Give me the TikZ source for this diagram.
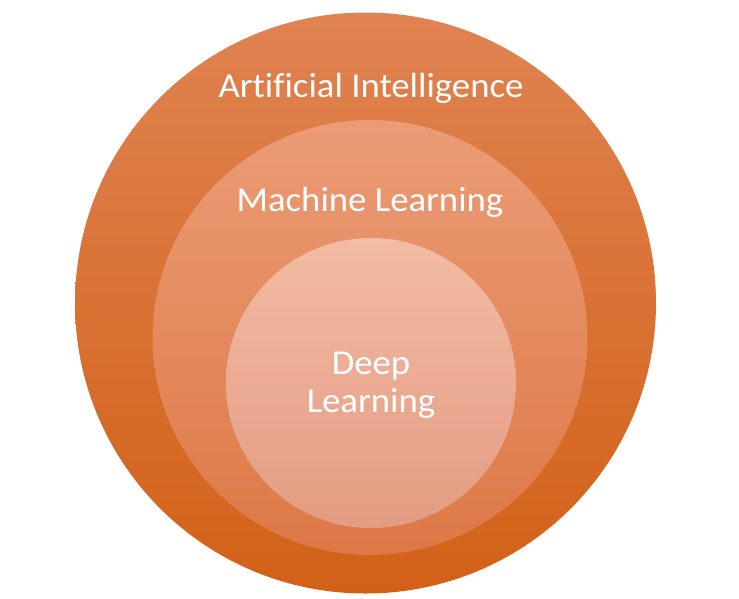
\documentclass[tikz,border=0pt]{standalone}
\usepackage{fontspec}
\setmainfont{Carlito}[Ligatures=NoCommon, FakeStretch=1.05]

\definecolor{aitop}{HTML}{E08352}
\definecolor{aimid}{HTML}{DF7026}
\definecolor{aibot}{HTML}{D26117}
\definecolor{mltop}{HTML}{EB9C76}
\definecolor{mlmid}{HTML}{EC8E62}
\definecolor{mlbot}{HTML}{DD7846}
\definecolor{dltop}{HTML}{F2BBA3}
\definecolor{dlmid}{HTML}{F6B196}
\definecolor{dlbot}{HTML}{E39C82}

\tikzset{
    ring label/.style={text=white, inner sep=0pt, font=\fontsize{35}{38.5}\selectfont},
}

\begin{document}
\begin{tikzpicture}[x=1pt, y=-1pt]
    \useasboundingbox (0,0) rectangle (739,598);
    % circles, outer to inner
    \shade[top color=aitop, middle color=aimid, bottom color=aibot] (365.5,303) circle (290.5);
    \shade[top color=mltop, middle color=mlmid, bottom color=mlbot] (370,337.5) circle (217.5);
    \shade[top color=dltop, middle color=dlmid, bottom color=dlbot] (371,383) circle (145);
    % labels
    \node[ring label, anchor=base] (ai) at (371,97) {Artificial Intelligence};
    \node[ring label, anchor=base] (ml) at (370,211.5) {Machine Learning};
    \node[ring label, align=center, anchor=north] (dl) at (371,351.5) {Deep\\Learning};
\end{tikzpicture}
\end{document}
